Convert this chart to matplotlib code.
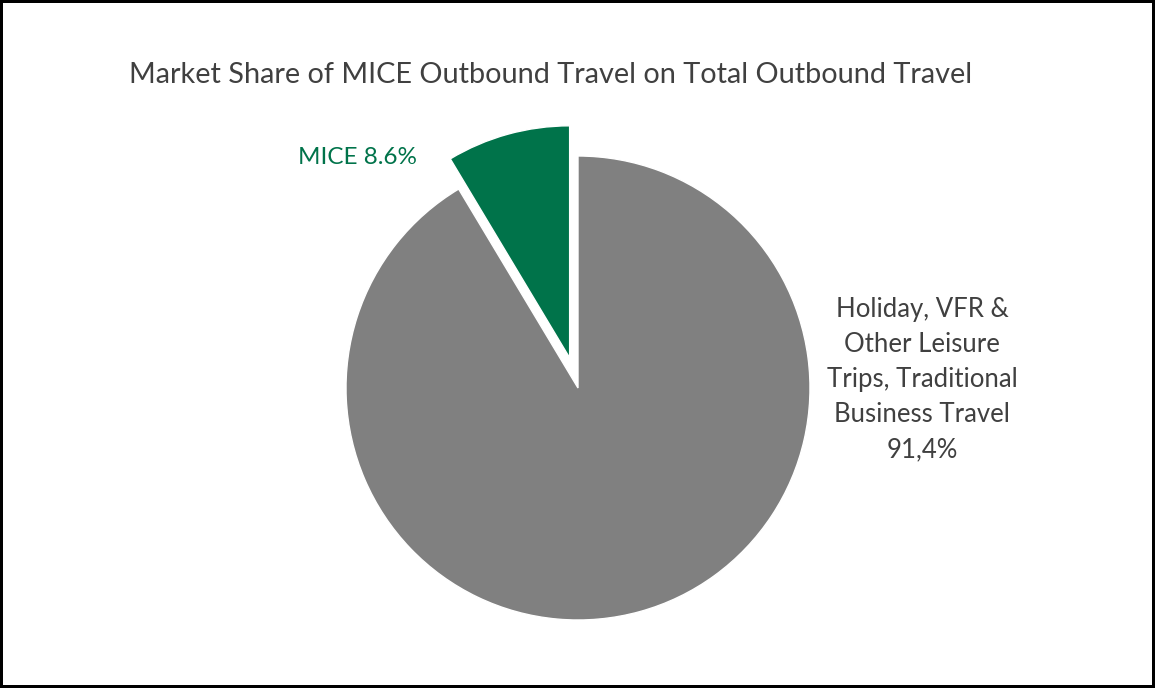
import matplotlib
matplotlib.use("Agg")
import matplotlib.pyplot as plt

plt.rcParams['font.family'] = ['Lato', 'DejaVu Sans']

labels = ['MICE 8.6%', 'Holiday, VFR &\nOther Leisure\nTrips, Traditional\nBusiness Travel\n91,4%']
shares = [8.6, 91.4]
colors = ['#00734A', '#808080']
title = 'Market Share of MICE Outbound Travel on Total Outbound Travel'

W, H = 1155, 688
R = 232
fig = plt.figure(figsize=(W / 100, H / 100), dpi=100)
fig.patch.set_edgecolor('black')
fig.patch.set_linewidth(3)

# axes in pixel units so the layout matches the reference
ax = fig.add_axes([0, 0, 1, 1])
ax.pie(shares, colors=colors, startangle=90, counterclock=True,
       center=(578, 300), radius=R, explode=[0.135 * R, 0],
       wedgeprops=dict(edgecolor='white', linewidth=1))
ax.set_xlim(0, W)
ax.set_ylim(0, H)
ax.set_aspect('equal')
ax.axis('off')

ax.text(551, H - 75, title, ha='center', va='center', fontsize=20.8, color='#404040')
ax.text(358, H - 157, labels[0], ha='center', va='center', fontsize=17.5, color=colors[0])
ax.text(922, H - 380, labels[1], ha='center', va='center', fontsize=18.5,
        color='#404040', linespacing=1.5)

fig.savefig('out.png', dpi=100)
